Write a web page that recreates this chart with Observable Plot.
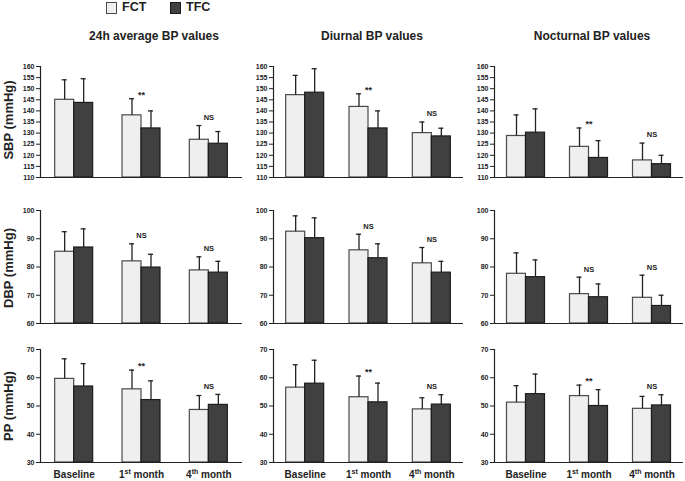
<!DOCTYPE html>
<html>
<head>
<meta charset="utf-8">
<script src="https://cdn.jsdelivr.net/npm/d3@7"></script>
<script src="https://cdn.jsdelivr.net/npm/@observablehq/plot@0.6"></script>
<style>
  html, body { margin: 0; padding: 0; background: #fff; }
  #root { position: relative; width: 685px; height: 481px; overflow: hidden; font-family: "Liberation Sans", Arial, sans-serif; color: #222; }
  .abs { position: absolute; }
  .coltitle { font-size: 12px; font-weight: bold; white-space: nowrap; transform: translate(-50%, -50%); }
  .ytitle { font-size: 13px; font-weight: bold; white-space: nowrap; transform: translate(-50%, -50%) rotate(-90deg); }
  .legtext { font-size: 12.5px; font-weight: bold; white-space: nowrap; }
  .legbox { box-sizing: border-box; width: 11px; height: 12px; }
  .panel { position: absolute; }
</style>
</head>
<body>
<div id="root"></div>
<script>
// ---------- data ----------
const groups = ["Baseline", "1st month", "4th month"];
const series = ["FCT", "TFC"];
const measures = ["SBP (mmHg)", "DBP (mmHg)", "PP (mmHg)"];
const periods = ["24h average BP values", "Diurnal BP values", "Nocturnal BP values"];

const sbpTicks = [110, 115, 120, 125, 130, 135, 140, 145, 150, 155, 160];
const dbpTicks = [60, 70, 80, 90, 100];
const ppTicks = [30, 40, 50, 60, 70];

const sbpMarks = ["", "**", "NS"];
const dbpMarks = ["", "NS", "NS"];
const ppMarks = ["", "**", "NS"];

// mean values and upper end of the error bars (mean + SD)
const sbp24_FCT = [145, 138, 127];
const sbp24_FCT_hi = [154, 145.5, 133.4];
const sbp24_TFC = [143.6, 132.1, 125.2];
const sbp24_TFC_hi = [154.5, 140, 130.7];

const sbpDay_FCT = [147.1, 141.8, 130];
const sbpDay_FCT_hi = [156, 147.7, 135];
const sbpDay_TFC = [148.2, 132.1, 128.5];
const sbpDay_TFC_hi = [159, 140, 132.2];

const sbpNight_FCT = [128.7, 123.8, 117.7];
const sbpNight_FCT_hi = [138.2, 132.3, 125.5];
const sbpNight_TFC = [130.2, 118.8, 116];
const sbpNight_TFC_hi = [140.9, 126.6, 120];

const dbp24_FCT = [85.4, 82, 78.8];
const dbp24_FCT_hi = [92.5, 88.2, 83.6];
const dbp24_TFC = [86.9, 79.8, 78];
const dbp24_TFC_hi = [93.5, 84.5, 82];

const dbpDay_FCT = [92.5, 85.9, 81.3];
const dbpDay_FCT_hi = [98.1, 91.6, 86.9];
const dbpDay_TFC = [90.2, 83.1, 78];
const dbpDay_TFC_hi = [97.4, 88.2, 82];

const dbpNight_FCT = [77.6, 70.4, 69.1];
const dbpNight_FCT_hi = [85, 76.4, 77.1];
const dbpNight_TFC = [76.4, 69.3, 66.2];
const dbpNight_TFC_hi = [82.5, 74, 70];

const pp24_FCT = [59.6, 55.9, 48.6];
const pp24_FCT_hi = [66.7, 62.7, 53.7];
const pp24_TFC = [56.9, 52.1, 50.4];
const pp24_TFC_hi = [65, 58.9, 54.1];

const ppDay_FCT = [56.5, 53.1, 48.8];
const ppDay_FCT_hi = [64.6, 60.6, 52.9];
const ppDay_TFC = [57.9, 51.3, 50.5];
const ppDay_TFC_hi = [66.2, 58.1, 54];

const ppNight_FCT = [51.2, 53.5, 49];
const ppNight_FCT_hi = [57.2, 57.4, 53.4];
const ppNight_TFC = [54.2, 50, 50.2];
const ppNight_TFC_hi = [61.3, 55.8, 54];

// ---------- layout ----------
const colGeom = [
  {left: 0, width: 245, mL: 40, mR: 3},
  {left: 245, width: 220, mL: 28, mR: 2},
  {left: 466, width: 219, mL: 28, mR: 2}
];
const rowGeom = [
  {top: 45, height: 140, mT: 21, mB: 8},
  {top: 190, height: 140, mT: 20, mB: 7},
  {top: 330, height: 151, mT: 19, mB: 19}
];
const colTitleX = [154, 372, 592];
const yTitleY = [120, 268, 406];

const FCT_FILL = "#efefef", FCT_STROKE = "#4a4a4a";
const TFC_FILL = "#404040", TFC_STROKE = "#1c1c1c";
const INK = "#222";

const rowDefs = [
  {domain: [110, 160], ticks: sbpTicks, marks: sbpMarks,
   cols: [[sbp24_FCT, sbp24_FCT_hi, sbp24_TFC, sbp24_TFC_hi],
          [sbpDay_FCT, sbpDay_FCT_hi, sbpDay_TFC, sbpDay_TFC_hi],
          [sbpNight_FCT, sbpNight_FCT_hi, sbpNight_TFC, sbpNight_TFC_hi]]},
  {domain: [60, 100], ticks: dbpTicks, marks: dbpMarks,
   cols: [[dbp24_FCT, dbp24_FCT_hi, dbp24_TFC, dbp24_TFC_hi],
          [dbpDay_FCT, dbpDay_FCT_hi, dbpDay_TFC, dbpDay_TFC_hi],
          [dbpNight_FCT, dbpNight_FCT_hi, dbpNight_TFC, dbpNight_TFC_hi]]},
  {domain: [30, 70], ticks: ppTicks, marks: ppMarks,
   cols: [[pp24_FCT, pp24_FCT_hi, pp24_TFC, pp24_TFC_hi],
          [ppDay_FCT, ppDay_FCT_hi, ppDay_TFC, ppDay_TFC_hi],
          [ppNight_FCT, ppNight_FCT_hi, ppNight_TFC, ppNight_TFC_hi]]}
];

const root = document.getElementById("root");

function addDiv(cls, text, style) {
  const d = document.createElement("div");
  d.className = "abs " + cls;
  d.textContent = text;
  Object.assign(d.style, style);
  root.appendChild(d);
  return d;
}

// legend
addDiv("legbox", "", {left: "106px", top: "2px", background: FCT_FILL, border: "1px solid " + FCT_STROKE});
addDiv("legtext", series[0], {left: "122px", top: "0px"});
addDiv("legbox", "", {left: "170px", top: "2px", background: TFC_FILL, border: "1px solid " + TFC_STROKE});
addDiv("legtext", series[1], {left: "186px", top: "0px"});

// column titles
periods.forEach((p, c) => addDiv("coltitle", p, {left: colTitleX[c] + "px", top: "36px"}));
// y titles
measures.forEach((m, r) => addDiv("ytitle", m, {left: "8px", top: yTitleY[r] + "px"}));

function superscriptify(svg) {
  const ns = "http://www.w3.org/2000/svg";
  svg.querySelectorAll("text").forEach(t => {
    const m = t.textContent.match(/^(\d+)(st|nd|rd|th) (.+)$/);
    if (!m) return;
    t.textContent = "";
    const a = document.createElementNS(ns, "tspan"); a.textContent = m[1];
    const b = document.createElementNS(ns, "tspan"); b.textContent = m[2];
    b.setAttribute("font-size", "7"); b.setAttribute("dy", "-3.5");
    const c = document.createElementNS(ns, "tspan"); c.textContent = "\u00a0" + m[3];
    c.setAttribute("dy", "3.5");
    t.append(a, b, c);
  });
}

function panel(r, c) {
  const def = rowDefs[r];
  const [fctV, fctHi, tfcV, tfcHi] = def.cols[c];
  const g = colGeom[c], rg = rowGeom[r];
  const W = g.width - g.mL - g.mR;
  const bw = W / 3;
  const barW = 19;
  const outer = bw / 2 - barW;
  const capHalf = 2.5;
  const ymin = def.domain[0];

  const fct = groups.map((grp, i) => ({group: grp, value: fctV[i], hi: fctHi[i]}));
  const tfc = groups.map((grp, i) => ({group: grp, value: tfcV[i], hi: tfcHi[i]}));
  const ann = groups.map((grp, i) => ({group: grp, label: def.marks[i], y: Math.max(fctHi[i], tfcHi[i])}))
                    .filter(a => a.label);

  const marks = [
    Plot.barY(fct, {x: "group", y1: ymin, y2: "value", fill: FCT_FILL, stroke: FCT_STROKE, strokeWidth: 1.2,
                    insetLeft: outer, insetRight: bw / 2}),
    Plot.barY(tfc, {x: "group", y1: ymin, y2: "value", fill: TFC_FILL, stroke: TFC_STROKE, strokeWidth: 1.2,
                    insetLeft: bw / 2, insetRight: outer}),
    Plot.ruleX(fct, {x: "group", y1: "value", y2: "hi", dx: -barW / 2, stroke: INK, strokeWidth: 1.3}),
    Plot.ruleX(tfc, {x: "group", y1: "value", y2: "hi", dx: barW / 2, stroke: INK, strokeWidth: 1.3}),
    Plot.tickY(fct, {x: "group", y: "hi", stroke: INK, strokeWidth: 1.3,
                     insetLeft: outer + barW / 2 - capHalf, insetRight: bw / 2 + barW / 2 - capHalf}),
    Plot.tickY(tfc, {x: "group", y: "hi", stroke: INK, strokeWidth: 1.3,
                     insetLeft: bw / 2 + barW / 2 - capHalf, insetRight: outer + barW / 2 - capHalf}),
    Plot.ruleY([ymin], {stroke: INK, strokeWidth: 1.2}),
    Plot.ruleX([groups[0]], {dx: -bw / 2, stroke: INK, strokeWidth: 1.2}),
    Plot.axisY({ticks: def.ticks, tickSize: 4, tickPadding: 2, fontSize: 7, fontWeight: "bold",
                label: null, stroke: INK, fill: INK}),
    Plot.text(ann.filter(a => a.label === "NS"), {x: "group", y: "y", text: "label", dy: -8,
                fontSize: 7.5, fontWeight: "bold", fill: INK}),
    Plot.text(ann.filter(a => a.label !== "NS"), {x: "group", y: "y", text: "label", dy: -4,
                fontSize: 9, fontWeight: "bold", fill: INK})
  ];
  if (r === 2) {
    marks.push(Plot.axisX({tickSize: 0, tickPadding: 8, fontSize: 10, fontWeight: "bold", label: null, fill: INK}));
  }

  const svg = Plot.plot({
    width: g.width,
    height: rg.height,
    marginLeft: g.mL,
    marginRight: g.mR,
    marginTop: rg.mT,
    marginBottom: rg.mB,
    x: {domain: groups, padding: 0, round: false, axis: r === 2 ? undefined : null, label: null},
    y: {domain: def.domain, label: null},
    style: {fontFamily: "'Liberation Sans', Arial, sans-serif", background: "transparent", overflow: "visible", color: INK},
    marks
  });
  superscriptify(svg);
  svg.classList.add("panel");
  svg.style.left = g.left + "px";
  svg.style.top = rg.top + "px";
  svg.style.position = "absolute";
  root.appendChild(svg);
}

for (let r = 0; r < 3; r++) for (let c = 0; c < 3; c++) panel(r, c);
</script>
</body>
</html>
